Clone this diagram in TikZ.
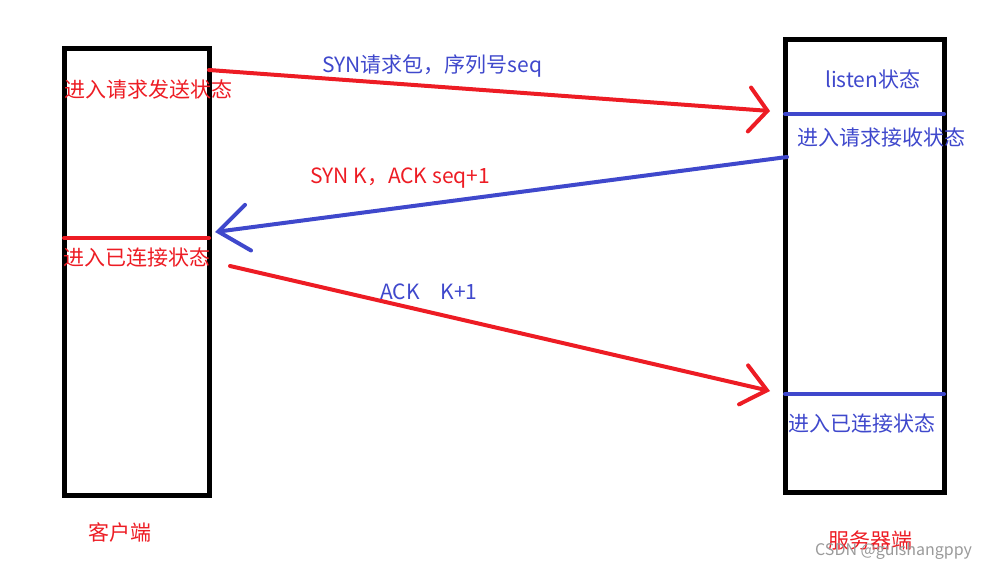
\documentclass[tikz,border=0pt]{standalone}
\usepackage{fontspec}
\setmainfont{Noto Sans CJK SC}
\usetikzlibrary{arrows.meta}
\definecolor{PaintRed}{HTML}{ED1C24}
\definecolor{PaintBlue}{HTML}{3F48CC}
\definecolor{Mark}{HTML}{9A9A9A}

\begin{document}
\begin{tikzpicture}[
  x=1pt,y=-1pt,
  host/.style={draw=black,line width=5pt,inner sep=0pt},
  lbl/.style={inner sep=0pt,anchor=west,font=\fontsize{21}{25}\selectfont},
  msg/.style={line width=4pt,line cap=round},
  divider/.style={line width=4pt,line cap=round}
]
\useasboundingbox (0,0) rectangle (986,569);
% the two hosts
\node[host,minimum width=145pt,minimum height=446pt] (client) at (136.5,272) {};
\node[host,minimum width=159pt,minimum height=452pt] (server) at (864.5,266) {};
% state changes
\draw[divider,PaintBlue] (785,114) -- (944,114);
\draw[divider,PaintRed] (64,238) -- (209,238);
\draw[divider,PaintBlue] (785,394) -- (944,394);
% message end points
\coordinate (synout) at (209,70);
\coordinate (synin) at (770,111);
\coordinate (ackout) at (787,157);
\coordinate (ackin) at (215,232);
\coordinate (finout) at (230,266);
\coordinate (finin) at (770,391);
\draw[msg,PaintRed,-{Straight Barb[length=18pt,width=44pt,line cap=round]}] (synout) -- (synin);
\draw[msg,PaintBlue,-{Straight Barb[length=30pt,width=46pt,line cap=round]}] (ackout) -- (ackin);
\draw[msg,PaintRed,-{Straight Barb[length=24pt,width=40pt,line cap=round]}] (finout) -- (finin);
% labels
\node[lbl,text=PaintRed] (sendst) at (64,90) {进入请求发送状态};
\node[lbl,text=PaintRed] (connc) at (63,258) {进入已连接状态};
\node[lbl,text=PaintBlue] (synmsg) at (322,66) {SYN请求包，序列号seq};
\node[lbl,text=PaintRed] (ackmsg) at (310,178) {SYN K，ACK seq+1};
\node[lbl,text=PaintBlue] (finmsg) at (380,292) {ACK\quad K+1};
\node[lbl,text=PaintBlue] (listenst) at (825,79) {listen状态};
\node[lbl,text=PaintBlue] (recvst) at (797,138) {进入请求接收状态};
\node[lbl,text=PaintBlue] (conns) at (788,423) {进入已连接状态};
\node[lbl,text=PaintRed] (clientname) at (88,532) {客户端};
\node[lbl,text=PaintRed] (servername) at (828,541) {服务器端};
\node[lbl,text=Mark,font=\fontsize{16}{18}\selectfont] (mark) at (815,551) {CSDN @guishangppy};
\end{tikzpicture}
\end{document}
